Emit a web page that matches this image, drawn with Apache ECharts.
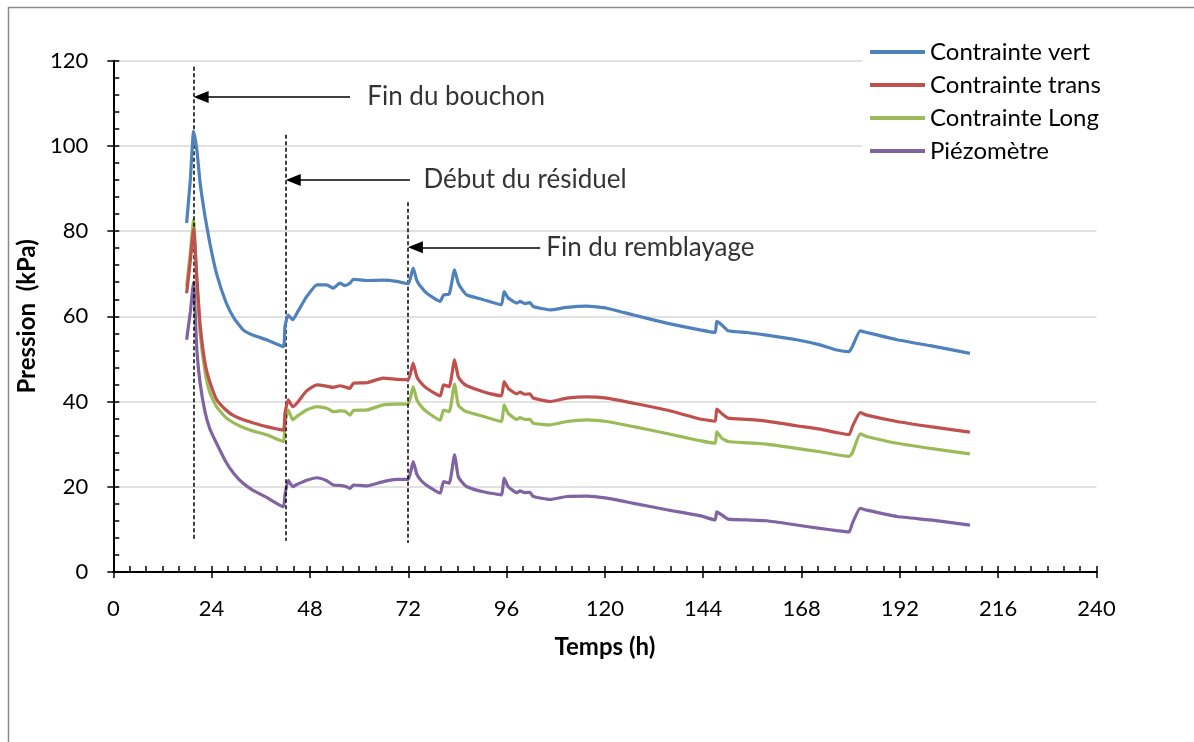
<!DOCTYPE html>
<html>
<head>
<meta charset="utf-8">
<title>Pression en fonction du temps</title>
<script src="https://cdn.jsdelivr.net/npm/echarts@6/dist/echarts.min.js"></script>
<style>
  html, body { margin: 0; padding: 0; background: #ffffff; }
  #chart { width: 1194px; height: 742px; }
</style>
</head>
<body>
<div id="chart"></div>
<script>
// Time (h) shared by all four sensors
const temps = [
  17.9, 18.8, 19.6, 20.4, 21.2, 22.4, 23.6, 25.2, 27.5, 29.5, 31.7, 34.0, 37.4, 41.5,
  41.9, 42.7, 43.8, 44.8, 47.2, 49.7, 52.1, 53.7, 55.3, 56.6, 57.8, 58.6, 61.9, 65.9, 69.2, 72.0,
  73.2, 74.1, 75.2, 76.5, 79.8, 80.6, 82.0, 83.3, 84.2, 85.2, 86.3, 90.3, 94.7, 95.4, 96.4, 98.5,
  99.3, 100.4, 101.7, 102.5, 106.6, 110.7, 115.6, 120.5, 127.0, 135.1, 143.2,
  146.9, 147.3, 148.5, 150.1, 154.6, 159.5, 166.8, 172.5, 176.6, 179.6, 180.4, 182.3, 183.9,
  191.3, 199.4, 209.1
];

// Pressure readings (kPa)
const contrainteVert = [
  81.9, 92.0, 103.4, 99.0, 91.3, 83.4, 77.0, 70.0, 63.3, 59.5, 56.8, 55.6, 54.5, 52.9,
  57.6, 60.3, 59.2, 60.7, 64.6, 67.4, 67.4, 66.6, 67.8, 67.2, 67.8, 68.7, 68.4, 68.5, 68.2, 67.6,
  71.3, 68.4, 66.8, 65.4, 63.5, 65.0, 65.2, 70.9, 67.8, 66.2, 65.0, 63.9, 62.7, 65.8, 64.3, 63.1,
  63.5, 63.0, 63.2, 62.3, 61.5, 62.1, 62.4, 61.9, 60.3, 58.4, 56.8,
  56.2, 58.8, 58.0, 56.6, 56.2, 55.6, 54.5, 53.3, 52.1, 51.7, 52.9, 56.6, 56.2,
  54.5, 53.1, 51.3
];
const contrainteTrans = [
  65.4, 73.0, 80.5, 69.0, 58.0, 49.0, 44.5, 40.5, 38.0, 36.6, 35.7, 35.0, 34.1, 33.3,
  37.2, 40.4, 38.8, 39.6, 42.5, 43.9, 43.6, 43.3, 43.7, 43.4, 43.1, 44.3, 44.4, 45.5, 45.2, 45.1,
  49.0, 45.8, 44.3, 43.1, 41.3, 43.9, 43.5, 49.8, 45.8, 44.5, 43.7, 42.3, 41.3, 44.7, 43.1, 41.8,
  42.2, 41.7, 41.8, 40.8, 40.0, 40.8, 41.1, 40.8, 39.6, 38.0, 35.9,
  35.4, 38.2, 37.2, 36.1, 35.8, 35.4, 34.3, 33.5, 32.7, 32.2, 34.1, 37.4, 36.8,
  35.3, 34.1, 32.8
];
const contrainteLong = [
  67.0, 75.0, 82.6, 68.0, 56.0, 47.0, 42.0, 38.8, 36.2, 34.9, 33.9, 33.1, 32.2, 30.6,
  34.9, 38.0, 35.7, 36.5, 38.0, 38.8, 38.4, 37.6, 37.8, 37.7, 36.8, 37.9, 38.0, 39.2, 39.4, 39.4,
  43.5, 40.4, 38.8, 37.6, 35.6, 38.0, 37.6, 44.1, 39.2, 38.2, 37.6, 36.5, 35.3, 39.2, 37.2, 35.8,
  36.2, 35.8, 35.8, 34.9, 34.5, 35.3, 35.7, 35.3, 34.1, 32.5, 30.8,
  30.2, 32.9, 31.4, 30.6, 30.3, 30.0, 29.0, 28.2, 27.5, 27.1, 27.9, 32.4, 31.8,
  30.2, 29.0, 27.7
];
const piezometre = [
  54.5, 61.0, 68.0, 52.0, 44.3, 37.5, 33.5, 30.2, 25.8, 23.0, 20.8, 19.2, 17.5, 15.3,
  18.1, 21.5, 20.0, 20.5, 21.5, 22.1, 21.4, 20.4, 20.3, 20.1, 19.6, 20.4, 20.2, 21.2, 21.7, 21.7,
  25.9, 22.9, 21.4, 20.3, 18.5, 21.2, 20.8, 27.5, 22.4, 21.0, 20.0, 18.8, 18.1, 22.0, 20.0, 18.6,
  19.0, 18.6, 18.7, 17.7, 17.0, 17.7, 17.8, 17.3, 16.1, 14.6, 13.2,
  12.2, 14.1, 13.4, 12.4, 12.2, 12.0, 11.0, 10.2, 9.7, 9.4, 11.4, 14.9, 14.5,
  13.0, 12.2, 11.0
];

const seriesNames = ['Contrainte vert', 'Contrainte trans', 'Contrainte Long', 'Piézomètre'];
const seriesColors = ['#4F81BD', '#C0504D', '#9BBB59', '#8064A2'];
const seriesValues = [contrainteVert, contrainteTrans, contrainteLong, piezometre];

// Event markers: time of the dashed line and its vertical extent (kPa)
const eventTimes = [19.6, 42.1, 71.9];
const eventTop = [118.6, 102.6, 86.8];
const eventBottom = [7.3, 7.3, 6.8];
// Arrow level (kPa), arrow tail time (h) and label anchor time (h)
const eventLabels = ['Fin du bouchon', 'Début du résiduel', 'Fin du remblayage'];
const arrowLevel = [111.5, 92.0, 76.2];
const arrowTail = [57.8, 72.4, 104.2];
const labelTime = [62.0, 75.7, 105.7];

const xTicks = { min: 0, max: 240, interval: 24 };
const yTicks = { min: 0, max: 120, interval: 20 };

const FONT = 'Lato, "Noto Sans", sans-serif';
const chart = echarts.init(document.getElementById('chart'), null, { renderer: 'canvas' });

const grid = { left: 113.3, right: 97.5, top: 60.7, bottom: 170.1, containLabel: false };
const plotWidth = 1194 - grid.left - grid.right;

// arrow head geometry (px); the head is centred on its end point,
// so the end point is pushed back by half its length to put the tip on the dashed line
const headWidth = 12, headLength = 15;
const headShift = (headLength / 2) * (xTicks.max - xTicks.min) / plotWidth;

const lineSeries = seriesNames.map((name, k) => ({
  name: name,
  type: 'line',
  xAxisIndex: 0,
  yAxisIndex: 0,
  data: temps.map((t, i) => [t, seriesValues[k][i]]),
  showSymbol: false,
  symbol: 'none',
  smooth: 0.15,
  lineStyle: { color: seriesColors[k], width: 3.2 },
  itemStyle: { color: seriesColors[k] },
  emphasis: { disabled: true },
  z: 6 - k
}));

const markLines = [];
eventTimes.forEach((t, i) => {
  markLines.push([
    { coord: [t, eventTop[i]], symbol: 'none', lineStyle: { type: [4, 2.5], width: 1.5, color: '#000' } },
    { coord: [t, eventBottom[i]], symbol: 'none' }
  ]);
  markLines.push([
    { coord: [arrowTail[i], arrowLevel[i]], symbol: 'none', lineStyle: { type: 'solid', width: 1.6, color: '#000' } },
    { coord: [t + headShift, arrowLevel[i]], symbol: 'triangle', symbolSize: [headWidth, headLength] }
  ]);
});

const annotationSeries = {
  name: 'evenements',
  type: 'scatter',
  xAxisIndex: 0,
  yAxisIndex: 0,
  symbolSize: 0,
  silent: true,
  data: eventLabels.map((txt, i) => ({ value: [labelTime[i], arrowLevel[i]], name: txt })),
  label: {
    show: true,
    position: 'right',
    distance: 0,
    formatter: p => p.name,
    fontFamily: FONT,
    fontSize: 26,
    color: '#000'
  },
  markLine: {
    silent: true,
    animation: false,
    symbol: ['none', 'none'],
    label: { show: false },
    itemStyle: { color: '#000' },
    lineStyle: { color: '#000', width: 1.5 },
    data: markLines
  },
  z: 10
};

const option = {
  animation: false,
  backgroundColor: '#ffffff',
  graphic: [{
    type: 'rect',
    shape: { x: 8.5, y: 7.5, width: 1300, height: 900 },
    style: { fill: 'none', stroke: '#8a8a8a', lineWidth: 1.5 },
    silent: true,
    z: -10
  }],
  grid: grid,
  legend: {
    data: seriesNames,
    orient: 'vertical',
    left: 862,
    top: 34,
    padding: [4, 8, 4, 8],
    backgroundColor: '#ffffff',
    itemWidth: 55,
    itemHeight: 4,
    itemGap: 5,
    icon: 'rect',
    textStyle: { fontFamily: FONT, fontSize: 24, color: '#000', lineHeight: 28 },
    selectedMode: false
  },
  xAxis: [{
    type: 'value',
    min: xTicks.min, max: xTicks.max, interval: xTicks.interval,
    name: 'Temps (h)',
    nameLocation: 'middle',
    nameGap: 63,
    nameTextStyle: { fontFamily: FONT, fontSize: 24, fontWeight: 'bold', color: '#000' },
    axisLine: { show: true, onZero: false, lineStyle: { color: '#000', width: 2 } },
    axisTick: { show: true, inside: false, length: 6, lineStyle: { color: '#000', width: 1.5 } },
    axisLabel: { fontFamily: FONT, fontSize: 22, color: '#000', margin: 26 },
    splitLine: { show: false }
  }, {
    type: 'value',
    position: 'bottom',
    gridIndex: 0,
    min: xTicks.min, max: xTicks.max, interval: xTicks.interval,
    axisLine: { show: false },
    axisTick: { show: true, inside: true, length: 6, lineStyle: { color: '#000', width: 1.5 } },
    minorTick: { show: true, splitNumber: 6, length: 6, lineStyle: { color: '#000', width: 1.5 } },
    axisLabel: { show: false },
    splitLine: { show: false }
  }],
  yAxis: [{
    type: 'value',
    min: yTicks.min, max: yTicks.max, interval: yTicks.interval,
    name: 'Pression  (kPa)',
    nameLocation: 'middle',
    nameGap: 66,
    nameTextStyle: { fontFamily: FONT, fontSize: 24, fontWeight: 'bold', color: '#000' },
    axisLine: { show: true, onZero: false, lineStyle: { color: '#000', width: 2 } },
    axisTick: { show: true, inside: false, length: 6, lineStyle: { color: '#000', width: 1.5 } },
    axisLabel: { fontFamily: FONT, fontSize: 22, color: '#000', margin: 25 },
    splitLine: { show: true, lineStyle: { color: '#d9d9d9', width: 1.5 } }
  }, {
    type: 'value',
    position: 'left',
    gridIndex: 0,
    min: yTicks.min, max: yTicks.max, interval: yTicks.interval,
    axisLine: { show: false },
    axisTick: { show: true, inside: true, length: 6, lineStyle: { color: '#000', width: 1.5 } },
    minorTick: { show: true, splitNumber: 5, length: 6, lineStyle: { color: '#000', width: 1.5 } },
    axisLabel: { show: false },
    splitLine: { show: false }
  }],
  series: lineSeries.concat([annotationSeries])
};

chart.setOption(option);
</script>
</body>
</html>
